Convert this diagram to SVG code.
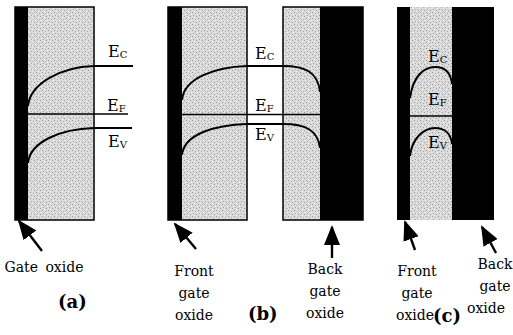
<svg xmlns="http://www.w3.org/2000/svg" width="513" height="335" viewBox="0 0 513 335">
<style>
.ox{fill:#000}
.si{fill:url(#stip);stroke:#000;stroke-width:1.5}
.band{fill:none;stroke:#000;stroke-width:2}
.ef{fill:none;stroke:#000;stroke-width:1.5}
.lbl{font-family:"DejaVu Serif","Liberation Serif",serif;font-size:16px;fill:#000}
.sub{font-size:10px}
.cap{font-family:"DejaVu Serif","Liberation Serif",serif;font-size:14px;fill:#000;text-anchor:middle}
.pan{font-family:"DejaVu Serif","Liberation Serif",serif;font-size:18px;font-weight:bold;fill:#000}
.arr{stroke:#000;stroke-width:2.4;fill:none;marker-end:url(#ah)}
</style>
<defs>
<pattern id="stip" patternUnits="userSpaceOnUse" width="6" height="6">
<rect width="6" height="6" fill="#dadada"/>
<rect x="0" y="0" width="1" height="1" fill="#9a9a9a"/>
<rect x="3" y="1" width="1" height="1" fill="#b0b0b0"/>
<rect x="1" y="3" width="1" height="1" fill="#a5a5a5"/>
<rect x="4" y="4" width="1" height="1" fill="#9a9a9a"/>
<rect x="5" y="2" width="1" height="1" fill="#f0f0f0"/>
<rect x="2" y="5" width="1" height="1" fill="#f0f0f0"/>
</pattern>
<marker id="ah" markerUnits="userSpaceOnUse" markerWidth="20" markerHeight="16" refX="18" refY="8" orient="auto" viewBox="0 0 20 16">
<path d="M0,0 L20,8 L0,16 Z" fill="#000"/>
</marker>
</defs>
<rect width="513" height="335" fill="#fff"/>
<g id="panel-a">
<rect class="si" x="15" y="7" width="79" height="213"/>
<rect class="ox" x="15" y="7" width="13" height="213"/>
<path class="band" d="M28,106 C30,84 60,67 94,66 L133,66"/>
<path class="ef" d="M28,114 L128,114"/>
<path class="band" d="M28,163 C30,142 60,129 94,128 L132,128"/>
<text class="lbl" x="108" y="57">E<tspan class="sub" dy="1">C</tspan></text>
<text class="lbl" x="107" y="111">E<tspan class="sub" dy="1">F</tspan></text>
<text class="lbl" x="108" y="147">E<tspan class="sub" dy="1">V</tspan></text>
</g>
<g id="panel-b">
<rect class="si" x="168" y="7" width="79" height="213"/>
<rect class="ox" x="168" y="7" width="14" height="213"/>
<rect class="si" x="283" y="7" width="80" height="213"/>
<rect class="ox" x="320" y="7" width="43" height="213"/>
<path class="band" d="M182,100 C184,78 215,67 247,66 L283,66 C305,66 318,72 320,92"/>
<path class="ef" d="M182,114.5 L320,114.5"/>
<path class="band" d="M182,155 C184,134 215,125 247,124 L283,124 C305,124 318,130 320,148"/>
<text class="lbl" x="255" y="59">E<tspan class="sub" dy="1">C</tspan></text>
<text class="lbl" x="255" y="111">E<tspan class="sub" dy="1">F</tspan></text>
<text class="lbl" x="255" y="140">E<tspan class="sub" dy="1">V</tspan></text>
</g>
<g id="panel-c">
<rect class="ox" x="397" y="7" width="97" height="213"/>
<rect x="410" y="7" width="42" height="213" fill="url(#stip)"/>
<path class="band" d="M410,98 C413,76 424,67 435,67 C446,67 451,74 452,84"/>
<path class="ef" d="M410,116 L452,116"/>
<path class="band" d="M410,156 C412,138 424,128 435,128 C445,128 451,134 452,144"/>
<text class="lbl" x="428" y="62">E<tspan class="sub" dy="1">C</tspan></text>
<text class="lbl" x="428" y="105">E<tspan class="sub" dy="1">F</tspan></text>
<text class="lbl" x="428" y="148">E<tspan class="sub" dy="1">V</tspan></text>
</g>
<g id="connectors">
<line class="arr" x1="42" y1="251" x2="19" y2="221"/>
<line class="arr" x1="196" y1="249" x2="175" y2="224"/>
<line class="arr" x1="332" y1="258" x2="332" y2="227"/>
<line class="arr" x1="415" y1="250" x2="405" y2="222"/>
<line class="arr" x1="496" y1="253" x2="482" y2="227"/>
</g>
<g id="labels">
<text class="cap" x="44" y="272" style="text-anchor:middle;word-spacing:3px">Gate oxide</text>
<text class="pan" x="58" y="308">(a)</text>
<text class="cap" x="194" y="276">Front</text>
<text class="cap" x="194" y="298">gate</text>
<text class="cap" x="194" y="320">oxide</text>
<text class="pan" x="248" y="320">(b)</text>
<text class="cap" x="325" y="274">Back</text>
<text class="cap" x="325" y="296">gate</text>
<text class="cap" x="325" y="318">oxide</text>
<text class="cap" x="417" y="276">Front</text>
<text class="cap" x="417" y="298">gate</text>
<text class="cap" x="415" y="320">oxide</text>
<text class="pan" x="433" y="322">(c)</text>
<text class="cap" x="495" y="269">Back</text>
<text class="cap" x="495" y="291">gate</text>
<text class="cap" x="486" y="313">oxide</text>
</g>
</svg>
